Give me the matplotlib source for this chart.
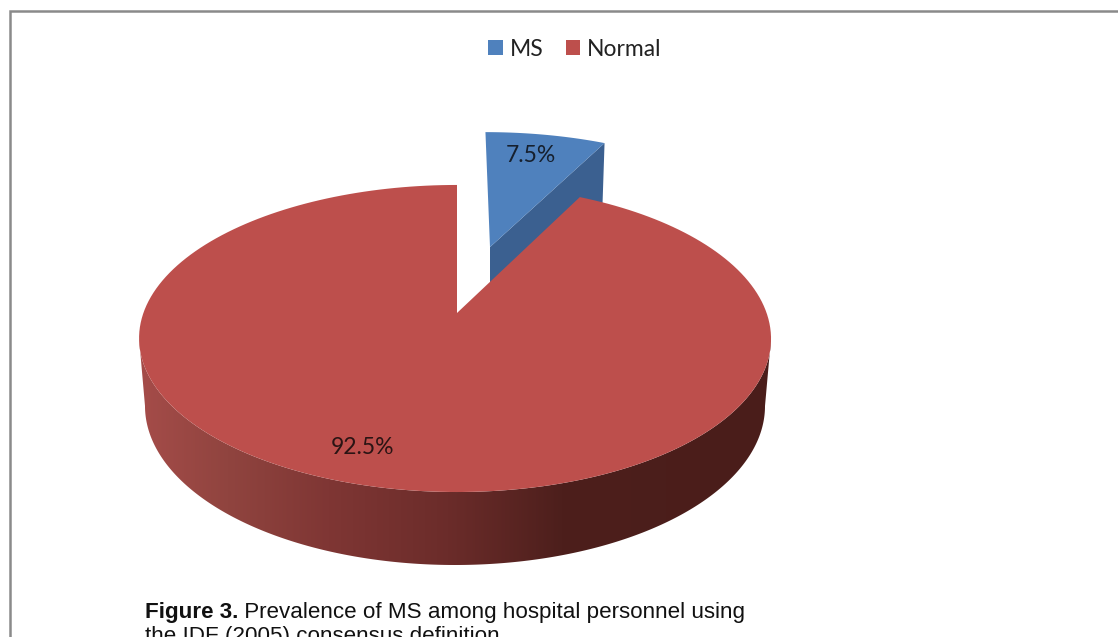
import numpy as np
import matplotlib
matplotlib.use("Agg")
import matplotlib.pyplot as plt
from matplotlib.colors import LinearSegmentedColormap
from matplotlib.patches import Polygon, Rectangle

# -------------------------
# Data
# -------------------------
labels = ["MS", "Normal"]
values = [7.5, 92.5]
colors = ["#4f81bd", "#bd4f4c"]

caption_bold = "Figure 3."
caption_line1 = " Prevalence of MS among hospital personnel using"
caption_line2 = "the IDF (2005) consensus definition."

# pie geometry, in image pixels
CX, CY = 457, 313
A, B, K = 311.6, 149.3, 0.166
EXPLODE = 0.49
MS_RADIUS = 1.04


def project(u, v):
    # simple perspective: the back of the disc is squeezed, the front stretched
    d = 1 + K * v
    return CX + A * u / d - 2 * u ** 2, CY - B * v / d


def wedge(start, end, du=0.0, dv=0.0, r=1.0):
    t = np.radians(np.linspace(start, end, 200))
    u = np.r_[du, r * np.sin(t) + du]
    v = np.r_[dv, r * np.cos(t) + dv]
    x, y = project(u, v)
    return np.c_[x, y]


fig = plt.figure(figsize=(11.18, 6.37), dpi=100)
ax = fig.add_axes([0, 0, 1, 1])
ax.set_xlim(0, 1118)
ax.set_ylim(637, 0)
ax.axis("off")

# frame: only the top and left lines are in the crop
ax.plot([9.5, 9.5, 1118], [637, 11, 11], color="#8a8a8a", lw=1.8,
        solid_joinstyle="miter")

# -------------------------
# MS slice (pulled out, sits behind the big slice)
# -------------------------
ms_angle = values[0] / sum(values) * 360
mid = np.radians(ms_angle / 2)
du, dv = EXPLODE * np.sin(mid), EXPLODE * np.cos(mid)

ms_top = wedge(0, ms_angle, du, dv, r=MS_RADIUS)
apex, rim = ms_top[0], ms_top[-1]
depth = 60
ax.add_patch(Polygon([apex, rim, rim + [-2, depth], apex + [0, depth]],
                     fc="#3b6090", ec="none", zorder=2))
ax.add_patch(Polygon(ms_top, fc=colors[0], ec="none", zorder=3))

# -------------------------
# Normal slice: shaded side, then the top
# -------------------------
t = np.radians(np.linspace(0, 360, 721)[:-1])
tx, ty = project(np.sin(t), np.cos(t))
bx, by = 455 + 310 * np.sin(t), 406 - 159 * np.cos(t)
right, left = np.argmax(tx), np.argmin(tx)
b_right, b_left = 180, 540
side = np.r_[np.c_[tx[right:left + 1], ty[right:left + 1]],
             np.c_[bx[b_right:b_left + 1], by[b_right:b_left + 1]][::-1]]

shade = LinearSegmentedColormap.from_list(
    "side", [(0, "#a54c49"), (0.14, "#90443f"), (0.30, "#7f3634"),
             (0.49, "#6b2c2a"), (0.67, "#4d1f1c"), (1, "#4a1d1a")])
img = ax.imshow(np.linspace(0, 1, 256)[None, :], cmap=shade, aspect="auto",
                extent=(139, 771, 570, 330), zorder=4)
clip = Polygon(side, transform=ax.transData)
img.set_clip_path(clip)
ax.set_xlim(0, 1118)
ax.set_ylim(637, 0)

ax.add_patch(Polygon(wedge(ms_angle, 360), fc=colors[1], ec="none", zorder=5))

# percentages
ax.text(531, 156, f"{values[0]}%", ha="center", va="center", fontsize=16.5,
        family="Lato", color="#16202e", zorder=6)
ax.text(362, 448, f"{values[1]}%", ha="center", va="center", fontsize=16.5,
        family="Lato", color="#2a1414", zorder=6)

# legend
handles = [Rectangle((0, 0), 1, 1, fc=c, ec="none") for c in colors]
ax.legend(handles, labels, ncol=2, loc="center", bbox_to_anchor=(575, 49),
          bbox_transform=ax.transData, frameon=False, handlelength=0.62,
          handleheight=0.62, handletextpad=0.32, columnspacing=0.95,
          borderpad=0, prop={"family": "Lato", "size": 16.5}, labelcolor="#222222")

# caption
cap = ax.text(145, 618, caption_bold, fontsize=16.1, fontweight="bold",
              family="Liberation Sans", color="#111111", va="baseline")
fig.canvas.draw()
bb = cap.get_window_extent()
ax.text(bb.x1, 618, caption_line1, fontsize=16.1, family="Liberation Sans",
        color="#111111", va="baseline")
ax.text(145, 642, caption_line2, fontsize=16.1, family="Liberation Sans",
        color="#111111", va="baseline", clip_on=True)

fig.savefig("out.png", dpi=100)
